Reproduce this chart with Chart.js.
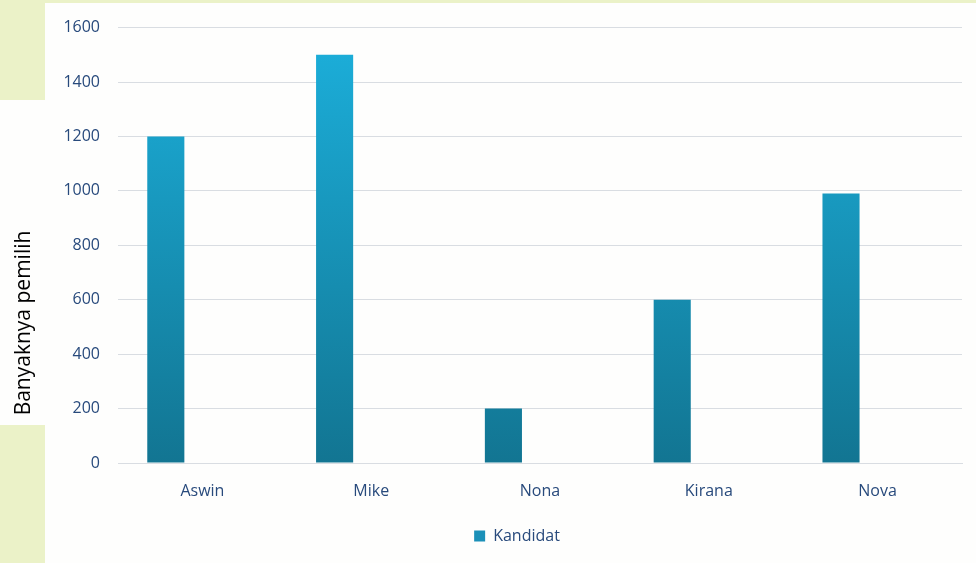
<!DOCTYPE html>
<html>
<head>
<meta charset="utf-8">
<script src="https://cdn.jsdelivr.net/npm/chart.js@4"></script>
<style>
  html, body { margin: 0; padding: 0; width: 976px; height: 563px; overflow: hidden; background: #ebf2c8; }
  .w1 { position: absolute; left: 45px; top: 3px; right: 0; bottom: 0; background: #fefefd; }
  .w2 { position: absolute; left: 0; top: 100px; width: 45px; height: 325px; background: #fefefd; }
  #wrap { position: absolute; left: 0; top: 0; width: 976px; height: 563px; }
</style>
</head>
<body>
<div class="w1"></div>
<div class="w2"></div>
<div id="wrap"><canvas id="c" width="976" height="563"></canvas></div>
<script>
const categories = ['Aswin', 'Mike', 'Nona', 'Kirana', 'Nova'];
const votes = [1200, 1500, 200, 600, 990];
const emptySeries = [null, null, null, null, null];
const seriesName = 'Kandidat';
const yTicks = [0, 200, 400, 600, 800, 1000, 1200, 1400, 1600];
const yTitle = 'Banyaknya pemilih';

const tickColor = '#284a7c';
const fontFamily = '"Open Sans", sans-serif';

function barGradient(context) {
  const chart = context.chart;
  const area = chart.chartArea;
  if (!area) return '#1a9cc6';
  const g = chart.ctx.createLinearGradient(0, area.top, 0, area.bottom);
  g.addColorStop(0, '#1cb0dc');
  g.addColorStop(1, '#127592');
  return g;
}

const yTitlePlugin = {
  id: 'yTitlePlugin',
  afterDraw(chart) {
    const { ctx, chartArea } = chart;
    ctx.save();
    ctx.translate(chartArea.left - 94, chartArea.bottom - 140);
    ctx.rotate(-Math.PI / 2);
    ctx.font = '21px ' + fontFamily;
    ctx.fillStyle = '#000000';
    ctx.textAlign = 'center';
    ctx.textBaseline = 'middle';
    ctx.fillText(yTitle, 0, 0);
    ctx.restore();
  }
};

new Chart(document.getElementById('c'), {
  type: 'bar',
  data: {
    labels: categories,
    datasets: [
      { label: seriesName, data: votes, backgroundColor: barGradient, borderWidth: 0 },
      { label: '', data: emptySeries, backgroundColor: 'rgba(0,0,0,0)', borderWidth: 0 }
    ]
  },
  options: {
    responsive: false,
    animation: false,
    devicePixelRatio: 1,
    categoryPercentage: 0.867,
    barPercentage: 0.507,
    layout: { padding: { left: 0, right: 14, top: 27, bottom: 9 } },
    plugins: {
      tooltip: { enabled: false },
      legend: {
        position: 'bottom',
        fullSize: false,
        labels: {
          boxWidth: 11,
          boxHeight: 11,
          padding: 27,
          color: tickColor,
          font: { family: fontFamily, size: 16 },
          generateLabels: chart => {
            const items = Chart.defaults.plugins.legend.labels.generateLabels(chart);
            items.forEach((it, i) => {
              it.fillStyle = i === 0 ? '#1b90b8' : 'rgba(0,0,0,0)';
              it.strokeStyle = 'rgba(0,0,0,0)';
              it.lineWidth = 0;
            });
            return items;
          }
        }
      }
    },
    scales: {
      x: {
        afterFit: scale => { scale.height = 38; },
        grid: { display: false, drawTicks: false },
        border: { display: true, color: '#d9dde2', width: 1 },
        ticks: { color: tickColor, font: { family: fontFamily, size: 16 }, padding: 19 }
      },
      y: {
        min: 0,
        max: 1600,
        afterBuildTicks: scale => { scale.ticks = yTicks.map(v => ({ value: v })); },
        afterFit: scale => { scale.width = 118; },
        grid: { color: '#d9dde2', lineWidth: 1, drawTicks: false },
        border: { display: false },
        ticks: { color: tickColor, font: { family: fontFamily, size: 16 }, padding: 18, callback: v => String(v) }
      }
    }
  },
  plugins: [yTitlePlugin]
});
</script>
</body>
</html>
